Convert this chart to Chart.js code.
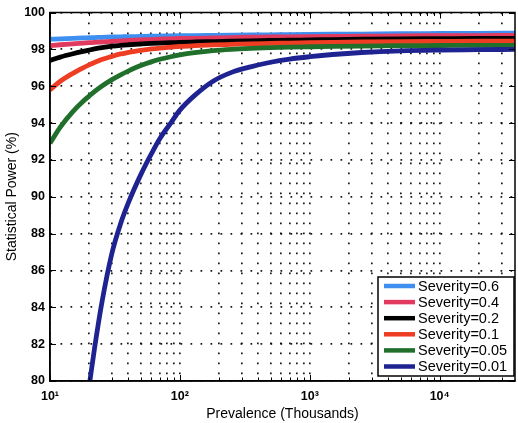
<!DOCTYPE html>
<html>
<head>
<meta charset="utf-8">
<script src="https://cdn.jsdelivr.net/npm/chart.js@4.4.1/dist/chart.umd.min.js"></script>
<style>
  html, body { margin: 0; padding: 0; background: #ffffff; }
  #wrap { width: 518px; height: 423px; }
</style>
</head>
<body>
<div id="wrap"><canvas id="powerChart" width="518" height="423"></canvas></div>
<script>
// Prevalence (thousands) sampled along the log axis
const prevalence = [10, 12, 15, 18, 20, 22, 25, 30, 35, 40, 50, 60, 70, 85, 100, 130, 180, 250, 350, 500, 700, 1000, 1500, 2500, 5000, 10000, 20000, 38000];

// Statistical power (%) for each severity level
const power06  = [98.55, 98.57, 98.60, 98.62, 98.63, 98.64, 98.65, 98.67, 98.68, 98.69, 98.70, 98.71, 98.72, 98.73, 98.74, 98.75, 98.76, 98.77, 98.78, 98.79, 98.80, 98.81, 98.82, 98.83, 98.85, 98.86, 98.87, 98.88];
const power04  = [98.20, 98.25, 98.30, 98.34, 98.36, 98.38, 98.40, 98.43, 98.46, 98.48, 98.51, 98.53, 98.55, 98.57, 98.59, 98.60, 98.62, 98.64, 98.66, 98.67, 98.68, 98.69, 98.70, 98.71, 98.73, 98.74, 98.75, 98.76];
const power02  = [97.40, 97.58, 97.76, 97.89, 97.96, 98.02, 98.09, 98.17, 98.22, 98.25, 98.29, 98.32, 98.34, 98.36, 98.38, 98.40, 98.42, 98.44, 98.46, 98.48, 98.50, 98.51, 98.53, 98.55, 98.57, 98.58, 98.59, 98.60];
const power01  = [95.80, 96.27, 96.70, 97.00, 97.16, 97.29, 97.45, 97.62, 97.75, 97.83, 97.95, 98.02, 98.07, 98.12, 98.16, 98.20, 98.24, 98.27, 98.30, 98.32, 98.34, 98.36, 98.38, 98.40, 98.42, 98.43, 98.44, 98.45];
const power005 = [92.90, 93.78, 94.62, 95.18, 95.46, 95.71, 96.00, 96.36, 96.62, 96.82, 97.12, 97.32, 97.46, 97.60, 97.70, 97.82, 97.93, 98.00, 98.05, 98.09, 98.12, 98.14, 98.16, 98.18, 98.20, 98.21, 98.22, 98.22];
const power001 = [null, null, null, null, 79.70, 81.75, 84.20, 86.95, 88.55, 89.65, 91.20, 92.30, 93.15, 94.00, 94.70, 95.50, 96.27, 96.75, 97.05, 97.30, 97.47, 97.60, 97.72, 97.83, 97.92, 97.96, 97.98, 98.00];

const severityLabels = ['Severity=0.6', 'Severity=0.4', 'Severity=0.2', 'Severity=0.1', 'Severity=0.05', 'Severity=0.01'];
const severityColors = ['#3f8ff0', '#e23a5e', '#000000', '#ee3d22', '#20702c', '#1e2391'];
const seriesValues = [power06, power04, power02, power01, power005, power001];

// Axis ticks
const xMin = 10, xMax = 38000;
const decadeTicks = [10, 100, 1000, 10000];
const decadeLabels = ['10\u00B9', '10\u00B2', '10\u00B3', '10\u2074'];
const yTicks = [80, 82, 84, 86, 88, 90, 92, 94, 96, 98, 100];

// Grid positions: 1..9 times every decade inside the range
const logGridValues = [];
for (let e = 1; e <= 4; e++) {
  for (let m = 1; m <= 9; m++) {
    const v = m * Math.pow(10, e);
    if (v >= xMin && v <= xMax) logGridValues.push(v);
  }
}

const datasets = seriesValues.map((vals, i) => ({
  label: severityLabels[i],
  data: prevalence.map((p, k) => ({ x: p, y: vals[k] })),
  borderColor: severityColors[i],
  backgroundColor: severityColors[i],
  borderWidth: 4.8,
  pointRadius: 0,
  cubicInterpolationMode: 'monotone',
  spanGaps: false,
  clip: 0,
  order: severityLabels.length - i
}));

// Full box around the plot with inward tick marks
const axesFrame = {
  id: 'axesFrame',
  afterDatasetsDraw(chart) {
    const { ctx, chartArea: a, scales } = chart;
    ctx.save();
    ctx.strokeStyle = '#000';
    ctx.lineWidth = 1;
    ctx.beginPath();
    scales.x.ticks.forEach(t => {
      const px = Math.round(scales.x.getPixelForValue(t.value)) + 0.5;
      const len = decadeTicks.includes(t.value) ? 6 : 3.5;
      ctx.moveTo(px, a.bottom); ctx.lineTo(px, a.bottom - len);
      ctx.moveTo(px, a.top); ctx.lineTo(px, a.top + len);
    });
    scales.y.ticks.forEach(t => {
      const py = Math.round(scales.y.getPixelForValue(t.value)) + 0.5;
      ctx.moveTo(a.left, py); ctx.lineTo(a.left + 6, py);
      ctx.moveTo(a.right, py); ctx.lineTo(a.right - 6, py);
    });
    ctx.stroke();
    ctx.lineWidth = 1.5;
    ctx.strokeRect(a.left, a.top, a.right - a.left, a.bottom - a.top);
    ctx.restore();
  }
};

// Boxed legend in the lower right corner of the plot
const legendBox = {
  id: 'legendBox',
  afterDraw(chart) {
    const { ctx, chartArea: a } = chart;
    const w = 136, h = 99;
    const x0 = a.right - w - 1, y0 = a.bottom - h - 5;
    ctx.save();
    ctx.fillStyle = '#fff';
    ctx.fillRect(x0, y0, w, h);
    ctx.strokeStyle = '#000';
    ctx.lineWidth = 1.5;
    ctx.strokeRect(x0, y0, w, h);
    ctx.font = '14.5px "Liberation Sans", Arial, sans-serif';
    ctx.textBaseline = 'middle';
    ctx.textAlign = 'left';
    chart.data.datasets.forEach((ds, i) => {
      const cy = y0 + 9 + i * 16.1;
      ctx.strokeStyle = ds.borderColor;
      ctx.lineWidth = 4.5;
      ctx.beginPath();
      ctx.moveTo(x0 + 6, cy);
      ctx.lineTo(x0 + 37, cy);
      ctx.stroke();
      ctx.fillStyle = '#000';
      ctx.fillText(ds.label, x0 + 40, cy + 0.5);
    });
    ctx.restore();
  }
};

const dotGrid = {
  color: 'rgba(0,0,0,0.9)',
  lineWidth: 1.7,
  drawTicks: false
};
const dotBorder = { display: true, color: '#000', width: 1.5, dash: [1.7, 8.3] };

new Chart(document.getElementById('powerChart'), {
  type: 'line',
  data: { datasets },
  options: {
    responsive: false,
    animation: false,
    devicePixelRatio: 1,
    layout: { padding: { top: 10, right: 3, left: 0, bottom: 0 } },
    plugins: {
      legend: { display: false },
      tooltip: { enabled: false }
    },
    scales: {
      x: {
        type: 'logarithmic',
        min: xMin,
        max: xMax,
        afterBuildTicks(scale) {
          scale.ticks = logGridValues.map(v => ({ value: v, major: decadeTicks.includes(v) }));
        },
        afterFit(scale) { scale.height = 42; },
        grid: dotGrid,
        border: dotBorder,
        ticks: {
          autoSkip: false,
          maxRotation: 0,
          padding: 8,
          color: '#000',
          font: { family: '"Liberation Sans", Arial, sans-serif', size: 12.5, weight: 'bold' },
          callback(value) {
            const i = decadeTicks.indexOf(value);
            return i >= 0 ? decadeLabels[i] : '';
          }
        },
        title: {
          display: true,
          text: 'Prevalence (Thousands)',
          color: '#000',
          font: { family: '"Liberation Sans", Arial, sans-serif', size: 14 },
          padding: { top: 0, bottom: 0 }
        }
      },
      y: {
        min: 80,
        max: 100,
        afterBuildTicks(scale) {
          scale.ticks = yTicks.map(v => ({ value: v }));
        },
        afterFit(scale) { scale.width = 50; },
        grid: dotGrid,
        border: dotBorder,
        ticks: {
          padding: 5,
          color: '#000',
          font: { family: '"Liberation Sans", Arial, sans-serif', size: 12.5, weight: 'bold' }
        },
        title: {
          display: true,
          text: 'Statistical Power (%)',
          color: '#000',
          font: { family: '"Liberation Sans", Arial, sans-serif', size: 14 },
          padding: { top: 4, bottom: 0 }
        }
      }
    }
  },
  plugins: [axesFrame, legendBox]
});
</script>
</body>
</html>
